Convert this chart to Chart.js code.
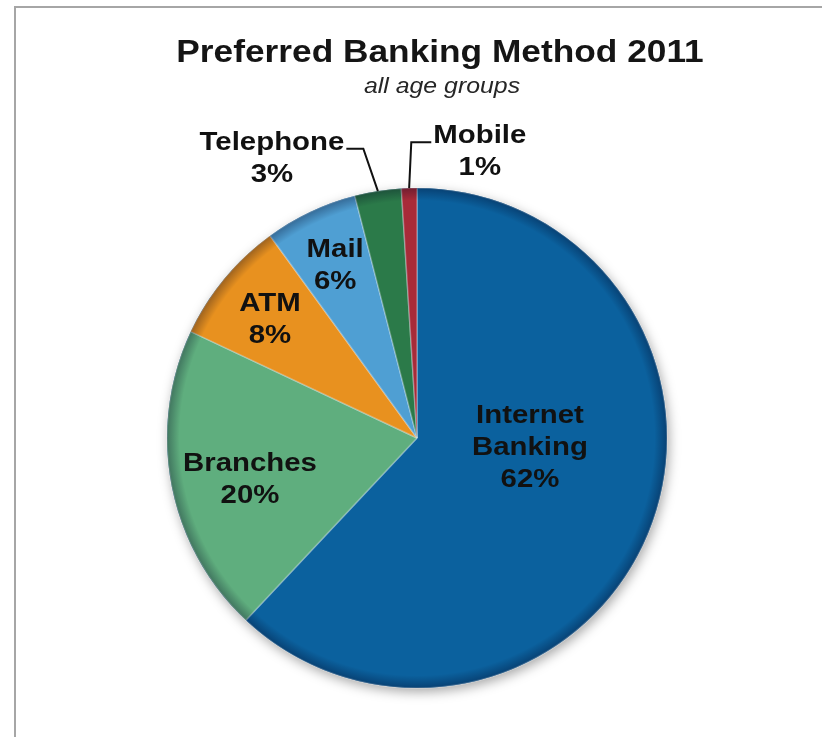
<!DOCTYPE html>
<html>
<head>
<meta charset="utf-8">
<title>Preferred Banking Method 2011</title>
<script src="https://cdn.jsdelivr.net/npm/chart.js@4.4.1/dist/chart.umd.min.js"></script>
<style>
  html, body { margin: 0; padding: 0; background: #fff; overflow: hidden; }
  #wrap { position: relative; width: 822px; height: 737px; overflow: hidden; }
  #frame { position: absolute; left: 14px; top: 6px; width: 900px; height: 800px; border: 2px solid #a6a6a6; box-sizing: border-box; }
  #myChart { position: absolute; left: 0; top: 0; }
</style>
</head>
<body>
<div id="wrap">
  <div id="frame"></div>
  <canvas id="myChart" width="822" height="737"></canvas>
</div>
<script>
// PREFERRED BANKING METHOD PIE

const methods = ["Internet Banking", "Branches", "ATM", "Mail", "Telephone", "Mobile"];
const shares = [62, 20, 8, 6, 3, 1];
const sliceColors = ["#0b619e", "#5fae7e", "#e8911f", "#4f9fd3", "#2b7a49", "#a82b39"];

// text shown on each slice (the % line is added from shares)
const labelLines = [["Internet", "Banking"], ["Branches"], ["ATM"], ["Mail"], ["Telephone"], ["Mobile"]];

// where each label sits: angle shift from slice middle (deg), distance as part of radius
const labelSpots = [
  { shift: -17.6, dist: 0.453 },
  { shift: -2.7, dist: 0.687 },
  { shift: -0.4, dist: 0.759 },
  { shift: 0, dist: 0.769 },
  { shift: -18.25, dist: 1.267, leader: "left" },
  { shift: 14.1, dist: 1.179, leader: "right" }
];

const stretch = 1.13;

function wideText(ctx, text, x, y, sx) {
  ctx.save();
  ctx.translate(x, y);
  ctx.scale(sx, 1);
  ctx.fillText(text, 0, 0);
  ctx.restore();
}

const sliceLabels = {
  id: 'sliceLabels',
  beforeDatasetsDraw(chart) {
    // soft shadow under the whole pie
    const arc = chart.getDatasetMeta(0).data[0];
    const ctx = chart.ctx;
    ctx.save();
    ctx.shadowColor = 'rgba(0,0,0,0.35)';
    ctx.shadowBlur = 12;
    ctx.shadowOffsetX = 2;
    ctx.shadowOffsetY = 4;
    ctx.fillStyle = sliceColors[0];
    ctx.beginPath();
    ctx.arc(arc.x, arc.y, arc.outerRadius, 0, Math.PI * 2);
    ctx.fill();
    ctx.restore();
  },
  afterDatasetsDraw(chart) {
    const ctx = chart.ctx;
    const arcs = chart.getDatasetMeta(0).data;
    const cx = arcs[0].x, cy = arcs[0].y, R = arcs[0].outerRadius;

    // darker rim, like a bevelled edge
    ctx.save();
    const rim = ctx.createRadialGradient(cx, cy, R * 0.95, cx, cy, R);
    rim.addColorStop(0, 'rgba(0,0,30,0)');
    rim.addColorStop(1, 'rgba(0,0,30,0.32)');
    ctx.fillStyle = rim;
    ctx.beginPath();
    ctx.arc(cx, cy, R, 0, Math.PI * 2);
    ctx.fill();
    ctx.restore();

    ctx.save();
    ctx.font = 'bold 26px "Liberation Sans", Arial, sans-serif';
    ctx.textAlign = 'center';
    ctx.textBaseline = 'alphabetic';
    ctx.fillStyle = '#111';
    ctx.strokeStyle = '#111';
    ctx.lineWidth = 2;
    const lh = 32;

    arcs.forEach((a, i) => {
      const spot = labelSpots[i];
      const mid = (a.startAngle + a.endAngle) / 2;
      const ang = mid + spot.shift * Math.PI / 180;
      const lx = cx + Math.cos(ang) * R * spot.dist;
      const ly = cy + Math.sin(ang) * R * spot.dist;
      const lines = labelLines[i].concat([shares[i] + '%']);
      const top = ly - (lines.length - 1) * lh / 2 + 9.3;

      lines.forEach((t, j) => wideText(ctx, t, lx, top + j * lh, stretch));

      if (spot.leader) {
        const w = ctx.measureText(lines[0]).width * stretch;
        const edgeX = cx + Math.cos(mid) * R;
        const edgeY = cy + Math.sin(mid) * R;
        const y0 = top - 1;
        let x0, x1;
        if (spot.leader === 'left') {
          x0 = lx + w / 2 + 2;
          x1 = x0 + 17;
        } else {
          x0 = lx - w / 2 - 2;
          x1 = x0 - 20;
        }
        ctx.beginPath();
        ctx.moveTo(x0, y0);
        ctx.lineTo(x1, y0);
        ctx.lineTo(edgeX, edgeY);
        ctx.stroke();
      }
    });
    ctx.restore();
  },
  afterDraw(chart) {
    const ctx = chart.ctx;
    ctx.save();
    ctx.textAlign = 'center';
    ctx.textBaseline = 'alphabetic';
    ctx.fillStyle = '#151515';
    ctx.font = 'bold 31.5px "Liberation Sans", Arial, sans-serif';
    wideText(ctx, 'Preferred Banking Method 2011', 440, 62, 1.12);
    ctx.fillStyle = '#262626';
    ctx.font = 'italic 22px "Liberation Sans", Arial, sans-serif';
    wideText(ctx, 'all age groups', 442, 93, stretch);
    ctx.restore();
  }
};

new Chart("myChart", {
  type: "pie",
  data: {
    labels: methods,
    datasets: [{
      data: shares,
      backgroundColor: sliceColors,
      borderColor: 'rgba(255,255,255,0.3)',
      borderWidth: 1.5
    }]
  },
  options: {
    responsive: false,
    animation: false,
    radius: 250,
    layout: {
      padding: { left: 167, right: 155, top: 188, bottom: 49 }
    },
    plugins: {
      legend: { display: false },
      tooltip: { enabled: false }
    }
  },
  plugins: [sliceLabels]
});
</script>
</body>
</html>
